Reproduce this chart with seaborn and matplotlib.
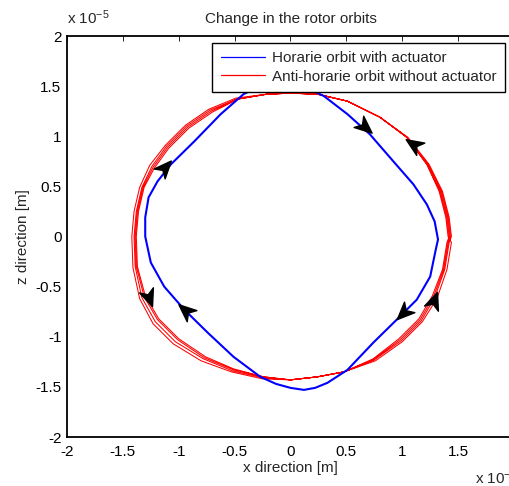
import numpy as np
import pandas as pd
import matplotlib
matplotlib.use("Agg")
import matplotlib.pyplot as plt
import seaborn as sns
from matplotlib.path import Path
from matplotlib.markers import MarkerStyle
from matplotlib.transforms import Affine2D
from matplotlib.lines import Line2D

# ---------------- data (units of 1e-5 m) ----------------
# clockwise orbit with actuator
blue_x = [-0.10, 0.10, 0.30, 0.51, 0.71, 0.92, 1.10, 1.22, 1.29, 1.32, 1.30, 1.25, 1.13,
          0.95, 0.74, 0.51, 0.33, 0.22, 0.12, 0.00, -0.13, -0.27, -0.51, -0.74, -0.95,
          -1.13, -1.25, -1.30, -1.30, -1.27, -1.19, -1.07, -0.86, -0.625, -0.42, -0.25, -0.10]
blue_z = [1.53, 1.51, 1.40, 1.22, 1.02, 0.75, 0.52, 0.32, 0.15, -0.03, -0.13, -0.40, -0.63,
          -0.83, -1.06, -1.33, -1.46, -1.51, -1.53, -1.51, -1.47, -1.40, -1.20, -0.96, -0.73,
          -0.50, -0.26, 0.00, 0.19, 0.39, 0.55, 0.72, 0.95, 1.22, 1.42, 1.51, 1.53]

# anti-clockwise orbit without actuator: four successive turns
red_x1 = [1.42, 1.40, 1.34, 1.22, 1.04, 0.80, 0.51, 0.24, 0.00, -0.21, -0.48, -0.71, -0.92,
          -1.10, -1.23, -1.32, -1.37, -1.39, -1.38, -1.31, -1.19, -1.01, -0.77, -0.51,
          -0.24, 0.00, 0.24, 0.48, 0.74, 0.98, 1.16, 1.28, 1.37, 1.41]
red_z1 = [0.00, 0.19, 0.45, 0.72, 0.99, 1.19, 1.35, 1.42, 1.43, 1.42, 1.37, 1.25, 1.09,
          0.89, 0.69, 0.49, 0.25, 0.00, -0.30, -0.60, -0.83, -1.03, -1.21, -1.33,
          -1.40, -1.43, -1.40, -1.35, -1.23, -1.03, -0.83, -0.60, -0.33, -0.06]
red_x2 = [1.43, 1.41, 1.35, 1.23, 1.04, 0.80, 0.51, 0.24, 0.00, -0.21, -0.48, -0.72, -0.93,
          -1.11, -1.24, -1.33, -1.38, -1.40, -1.39, -1.33, -1.21, -1.03, -0.78, -0.52,
          -0.24, 0.00, 0.24, 0.48, 0.75, 0.99, 1.17, 1.29, 1.38, 1.42]
red_z2 = [0.00, 0.19, 0.45, 0.72, 0.99, 1.19, 1.35, 1.42, 1.43, 1.42, 1.37, 1.26, 1.10,
          0.90, 0.70, 0.49, 0.25, 0.00, -0.30, -0.61, -0.85, -1.05, -1.22, -1.34,
          -1.41, -1.43, -1.40, -1.35, -1.23, -1.04, -0.84, -0.61, -0.33, -0.06]
red_x3 = [1.44, 1.42, 1.36, 1.24, 1.05, 0.80, 0.51, 0.24, 0.00, -0.21, -0.49, -0.73, -0.94,
          -1.12, -1.26, -1.35, -1.40, -1.42, -1.41, -1.35, -1.23, -1.05, -0.80, -0.53,
          -0.25, 0.00, 0.24, 0.48, 0.76, 1.00, 1.18, 1.31, 1.40, 1.44]
red_z3 = [0.00, 0.19, 0.45, 0.72, 0.99, 1.19, 1.35, 1.42, 1.43, 1.42, 1.38, 1.27, 1.11,
          0.91, 0.71, 0.49, 0.25, 0.00, -0.31, -0.62, -0.87, -1.07, -1.24, -1.35,
          -1.42, -1.43, -1.40, -1.35, -1.24, -1.05, -0.85, -0.62, -0.33, -0.06]
red_x4 = [1.41, 1.39, 1.33, 1.22, 1.04, 0.80, 0.51, 0.24, 0.00, -0.21, -0.47, -0.70, -0.91,
          -1.09, -1.22, -1.31, -1.36, -1.38, -1.37, -1.30, -1.18, -1.00, -0.76, -0.51,
          -0.24, 0.00, 0.24, 0.48, 0.74, 0.97, 1.15, 1.27, 1.36, 1.40, 1.42]
red_z4 = [0.00, 0.19, 0.45, 0.72, 0.99, 1.19, 1.35, 1.42, 1.43, 1.42, 1.37, 1.24, 1.08,
          0.88, 0.68, 0.49, 0.25, 0.00, -0.30, -0.59, -0.82, -1.02, -1.20, -1.32,
          -1.40, -1.43, -1.40, -1.35, -1.22, -1.02, -0.82, -0.59, -0.33, -0.06, 0.00]

# arrowheads: position and direction of travel along the orbit
arrow_x = [0.67, 1.01, -0.94, -1.12, 1.10, 1.28, -1.27]
arrow_z = [1.09, -0.76, -0.73, 0.69, 0.92, -0.63, -0.61]
arrow_dx = [0.44, -0.51, -0.31, 0.30, -0.30, 0.10, 0.10]
arrow_dz = [-0.42, -0.56, 0.30, 0.37, 0.22, 0.30, -0.30]

ticks = [-2, -1.5, -1, -0.5, 0, 0.5, 1, 1.5, 2]
tick_labels = ["-2", "-1.5", "-1", "-0.5", "0", "0.5", "1", "1.5", "2"]
labels = ["Horarie orbit with actuator", "Anti-horarie orbit without actuator"]

# ---------------- style ----------------
sns.set_style("white")
plt.rcParams["font.family"] = ["Liberation Sans", "DejaVu Sans"]
plt.rcParams["mathtext.fontset"] = "custom"
plt.rcParams["mathtext.rm"] = "Liberation Sans"
plt.rcParams["mathtext.it"] = "Liberation Sans"
FS = 11

fig = plt.figure(figsize=(5.10, 4.86), dpi=100)
fig.patch.set_facecolor("white")
ax = fig.add_axes([67 / 510, 49 / 486, 447 / 510, 401 / 486])

blue_df = pd.DataFrame({"x": blue_x, "z": blue_z})
red_df = pd.DataFrame({"x": red_x1 + red_x2 + red_x3 + red_x4,
                       "z": red_z1 + red_z2 + red_z3 + red_z4})
sns.lineplot(data=red_df, x="x", y="z", sort=False, estimator=None, color="#ff0000",
             linewidth=0.75, ax=ax)
sns.lineplot(data=blue_df, x="x", y="z", sort=False, estimator=None, color="#0000ff",
             linewidth=1.5, ax=ax)

ax.set_xlim(-2, 2)
ax.set_ylim(-2, 2)
ax.set_xticks(ticks)
ax.set_xticklabels(tick_labels, fontsize=FS)
ax.set_yticks(ticks)
ax.set_yticklabels(tick_labels, fontsize=FS)
ax.tick_params(direction="in", length=3.5, width=0.6, top=True, right=True, colors="black")
ax.tick_params(axis="x", pad=6)
ax.tick_params(axis="y", pad=4)
for s in ax.spines.values():
    s.set_color("black")
    s.set_linewidth(1.3)
    s.set_visible(True)
ax.set_xlabel("x direction [m]", fontsize=FS, labelpad=1)
ax.set_ylabel("z direction [m]", fontsize=FS, labelpad=3.5)
ax.set_title("Change in the rotor orbits", fontsize=FS, pad=9)

# arrowheads
fig.canvas.draw()
head = Path([(1.0, 0.0), (-1.0, 0.85), (-0.45, 0.0), (-1.0, -0.85), (1.0, 0.0)],
            [Path.MOVETO, Path.LINETO, Path.LINETO, Path.LINETO, Path.CLOSEPOLY])
for x, z, dx, dz in zip(arrow_x, arrow_z, arrow_dx, arrow_dz):
    p0 = ax.transData.transform((x, z))
    p1 = ax.transData.transform((x + dx, z + dz))
    ang = np.degrees(np.arctan2(p1[1] - p0[1], p1[0] - p0[0]))
    m = MarkerStyle(head, transform=Affine2D().rotate_deg(ang))
    ax.plot([x], [z], marker=m, markersize=12.5, color="black", linestyle="none", zorder=5)

handles = [Line2D([], [], color="#0000ff", linewidth=0.9),
           Line2D([], [], color="#ff0000", linewidth=0.9)]
leg = ax.legend(handles, labels, loc="upper right", bbox_to_anchor=(505 / 510, 1 - 43 / 486),
                bbox_transform=fig.transFigure, fontsize=FS, frameon=True, fancybox=False,
                framealpha=1, edgecolor="black", handlelength=2.9, handletextpad=0.45,
                labelspacing=0.27, borderpad=0.55, borderaxespad=0)
leg.get_frame().set_linewidth(1.0)
leg.set_zorder(10)

fig.text(67 / 510, 1 - 18 / 486, "x 10$^{-5}$", fontsize=FS, ha="left", va="center")
fig.text(475 / 510, 1 - 478 / 486, "x 10$^{-5}$", fontsize=FS, ha="left", va="center")

fig.savefig("out.png", dpi=100, facecolor="white")
